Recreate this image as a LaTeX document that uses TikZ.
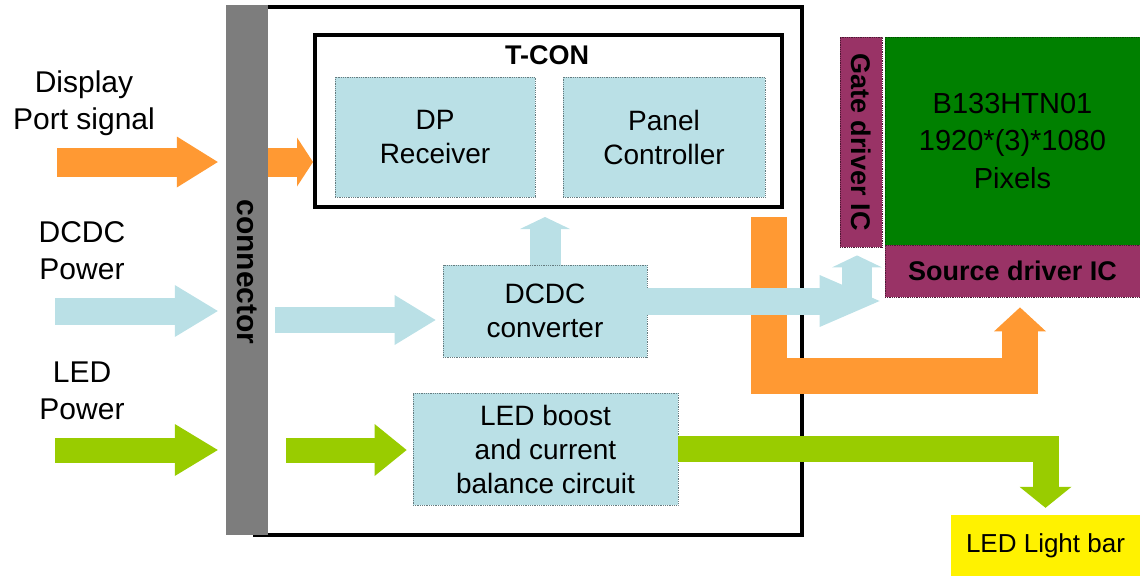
\documentclass[tikz,border=0pt]{standalone}
\usepackage{fontspec}
\setmainfont{Liberation Sans}
\usetikzlibrary{arrows.meta}

\definecolor{boxblue}{RGB}{186,224,230}
\definecolor{sigorange}{RGB}{255,153,51}
\definecolor{ledgreen}{RGB}{153,204,0}
\definecolor{conngray}{RGB}{125,125,125}
\definecolor{panelgreen}{RGB}{0,128,0}
\definecolor{icpurple}{RGB}{153,51,102}

\begin{document}
\begin{tikzpicture}[x=10pt,y=-10pt,
    lbl/.style={align=center,font=\fontsize{30}{37}\selectfont},
    boldlbl/.style={font=\bfseries\fontsize{27}{32}\selectfont},
    box/.style={fill=boxblue,draw=boxblue!55!black,densely dotted,line width=0.8pt,
      inner sep=0pt,align=center,font=\fontsize{28}{34}\selectfont},
    ic/.style={fill=icpurple,draw=icpurple!50!black,densely dotted,line width=0.8pt,inner sep=0pt},
    sig/.style={draw=sigorange,line width=29pt},
    pwr/.style={draw=boxblue,line width=27pt},
    led/.style={draw=ledgreen,line width=25pt},
    bighead/.style 2 args={-{Triangle[length=#1,width=#2,line width=0pt]}}]

  \useasboundingbox (0,0) rectangle (114,57.6);

  % inputs
  \node[lbl] (dplbl) at (8.4,10.35) {Display\\Port signal};
  \node[lbl] (dclbl) at (8.2,25.1) {DCDC\\Power};
  \node[lbl] (ledlbl) at (8.2,39.1) {LED\\Power};
  \coordinate (dpin) at (5.7,16.2);
  \coordinate (dcin) at (5.5,31.1);
  \coordinate (dcrow) at (0,32.0);
  \coordinate (ledin) at (5.5,45.0);

  % module frame and connector
  \node[draw,line width=3.5pt,inner sep=0pt,minimum width=547pt,minimum height=528pt] (module) at (52.85,27.1) {};
  \node[fill=conngray,inner sep=0pt,minimum width=42pt,minimum height=530pt] (conn) at (24.7,27.0) {};
  \node[boldlbl,font=\bfseries\fontsize{30}{34}\selectfont,rotate=-90] (conntext) at (24.7,27.2) {connector};

  % T-CON
  \node[draw,line width=4pt,inner sep=0pt,minimum width=467pt,minimum height=172pt] (tcon) at (54.85,12.1) {};
  \node[boldlbl] (tcontitle) at (54.7,5.5) {T-CON};
  \node[box,minimum width=200pt,minimum height=120pt] (dp) at (43.5,13.7) {DP\\Receiver};
  \node[box,minimum width=202pt,minimum height=120pt] (pc) at (66.4,13.7) {Panel\\Controller};

  % power blocks
  \node[box,minimum width=204pt,minimum height=92pt] (dcdc) at (54.5,31.1) {DCDC\\converter};
  \node[box,minimum width=265pt,minimum height=112pt] (boost) at (54.55,44.9) {LED boost\\and current\\balance circuit};

  % panel
  \node[fill=panelgreen,draw=panelgreen!60!black,densely dotted,line width=0.8pt,inner sep=0pt,
    minimum width=255pt,minimum height=208pt,align=center,font=\fontsize{29}{37.5}\selectfont] (panel) at (101.25,14.1) {B133HTN01\\1920*(3)*1080\\Pixels};
  \node[ic,minimum width=42pt,minimum height=210pt] (gate) at (86.1,14.2) {};
  \node[boldlbl,rotate=-90] (gatetext) at (gate.center) {Gate driver IC};
  \node[ic,boldlbl,minimum width=255pt,minimum height=52pt] (src) at (101.25,27.1) {Source driver IC};
  \node[fill=yellow,inner sep=0pt,minimum width=189pt,minimum height=61pt,font=\fontsize{26}{30}\selectfont] (bar) at (104.55,54.55) {LED Light bar};

  % signal path
  \coordinate (bend) at (102,37.6);
  \draw[sig,line width=36pt,bighead={24pt}{52pt},shorten >=10pt] ([shift={(-1.5,0.8)}]tcon.south east) |- (bend) -- (bend |- src.south);
  \draw[sig,bighead={41pt}{51pt},shorten >=8pt] (dpin) -- (dpin -| conn.west);
  \draw[sig,bighead={16pt}{49pt}] (dpin -| conn.east) -- (dpin -| tcon.west);

  % DCDC path
  \coordinate (split) at (85.7,30.1);
  \draw[pwr,line width=30pt,bighead={12pt}{50pt},shorten >=8pt] (split) -- (split |- gate.south);
  \draw[pwr,bighead={60pt}{52pt},shorten >=5pt] ([shift={(0,-1)}]dcdc.east) -- (split -| src.west);
  \draw[pwr,line width=31pt,bighead={12pt}{50pt},shorten >=8pt] (dcdc.north) -- (dcdc.north |- tcon.south);
  \draw[pwr,bighead={43pt}{52pt},shorten >=8pt] (dcin) -- (dcin -| conn.west);
  \draw[pwr,line width=26pt,bighead={41pt}{50pt},shorten <=7pt,shorten >=7pt] (dcrow -| conn.east) -- (dcrow -| dcdc.west);

  % LED path
  \draw[led,bighead={43pt}{52pt},shorten >=8pt] (ledin) -- (ledin -| conn.west);
  \draw[led,bighead={32pt}{52pt},shorten <=18pt,shorten >=6pt] (ledin -| conn.east) -- (ledin -| boost.west);
  \draw[led,line width=26pt,bighead={21pt}{52pt},shorten >=7pt] (boost.east) -| (bar.north);

\end{tikzpicture}
\end{document}
